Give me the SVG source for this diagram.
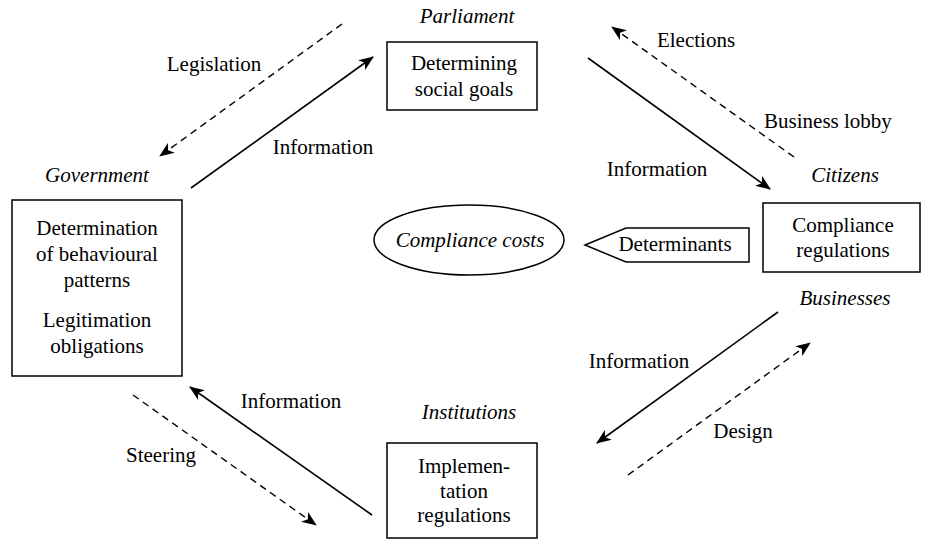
<svg xmlns="http://www.w3.org/2000/svg" width="929" height="541" viewBox="0 0 929 541" font-family="'Liberation Serif', 'DejaVu Serif', serif">
  <style>
    text { font-family: 'Liberation Serif', 'DejaVu Serif', serif; font-size: 21px; fill: #000; text-anchor: middle; }
    .it { font-style: italic; }
    .box { fill: #fff; stroke: #000; stroke-width: 1.5; }
    .solid { fill: none; stroke: #000; stroke-width: 1.6; marker-end: url(#head); }
    .dash { fill: none; stroke: #000; stroke-width: 1.4; stroke-dasharray: 7 5; marker-end: url(#head); }
  </style>
  <defs>
    <marker id="head" markerUnits="userSpaceOnUse" markerWidth="16" markerHeight="12" refX="14" refY="6" orient="auto">
      <path d="M0,0 L15,6 L0,12 L4,6 z" fill="#000"/>
    </marker>
  </defs>
  <rect width="929" height="541" fill="#fff"/>

  <!-- connectors and their labels -->
  <g id="connectors">
    <line class="dash" x1="342" y1="24" x2="160" y2="156"/>
    <line class="solid" x1="191" y1="188" x2="373" y2="57"/>
    <line class="dash" x1="794" y1="157" x2="612" y2="27"/>
    <line class="solid" x1="588" y1="58" x2="770" y2="189"/>
    <line class="solid" x1="778" y1="312" x2="597" y2="443"/>
    <line class="dash" x1="628" y1="475" x2="810" y2="343"/>
    <line class="solid" x1="372" y1="515" x2="190" y2="387"/>
    <line class="dash" x1="133" y1="395" x2="316" y2="525"/>
    <text x="214" y="71">Legislation</text>
    <text x="323" y="154">Information</text>
    <text x="696" y="47">Elections</text>
    <text x="828" y="128">Business lobby</text>
    <text x="657" y="176">Information</text>
    <text x="639" y="368">Information</text>
    <text x="743" y="438">Design</text>
    <text x="291" y="408">Information</text>
    <text x="161" y="462">Steering</text>
  </g>

  <!-- Parliament -->
  <g id="parliament">
    <text class="it" x="467" y="23">Parliament</text>
    <rect class="box" x="387" y="42" width="150" height="68"/>
    <text x="464" y="70">Determining</text>
    <text x="464" y="96">social goals</text>
  </g>

  <!-- Government -->
  <g id="government">
    <text class="it" x="97" y="182">Government</text>
    <rect class="box" x="12" y="200" width="170" height="176"/>
    <text x="97" y="235">Determination</text>
    <text x="97" y="261">of behavioural</text>
    <text x="97" y="287">patterns</text>
    <text x="97" y="327">Legitimation</text>
    <text x="97" y="353">obligations</text>
  </g>

  <!-- Citizens / Businesses -->
  <g id="citizens">
    <text class="it" x="845" y="182">Citizens</text>
    <rect class="box" x="763" y="203" width="157" height="69"/>
    <text x="843" y="232">Compliance</text>
    <text x="843" y="257">regulations</text>
    <text class="it" x="845" y="305">Businesses</text>
  </g>

  <!-- Institutions -->
  <g id="institutions">
    <text class="it" x="469" y="419">Institutions</text>
    <rect class="box" x="387" y="443" width="150" height="95"/>
    <text x="464" y="473">Implemen-</text>
    <text x="464" y="498">tation</text>
    <text x="464" y="522">regulations</text>
  </g>

  <!-- Compliance costs -->
  <g id="compliance-costs">
    <ellipse class="box" cx="469" cy="240" rx="95" ry="35"/>
    <text class="it" x="470" y="247">Compliance costs</text>
  </g>

  <!-- Determinants -->
  <g id="determinants">
    <polygon class="box" points="585,245 626,228 749,228 749,262 626,262"/>
    <text x="675" y="251">Determinants</text>
  </g>
</svg>
